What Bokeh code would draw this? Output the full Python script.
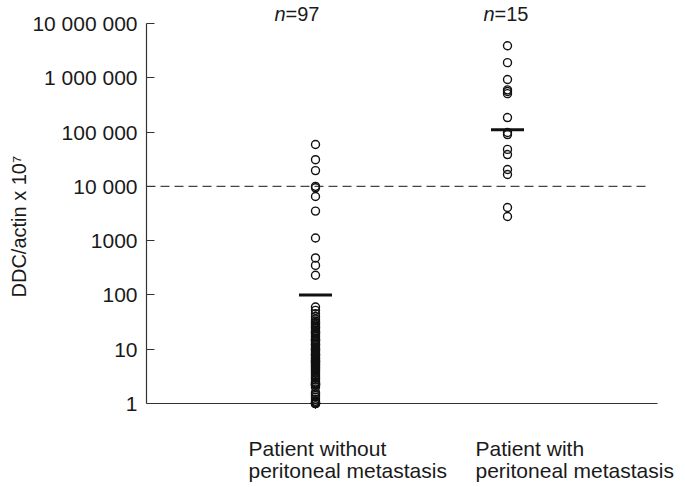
from bokeh.plotting import figure
from bokeh.models import Range1d, FixedTicker, Title
from bokeh.core.properties import value
from bokeh.embed import file_html
from bokeh.resources import INLINE

# ---- data ----
group_pos = [1, 2]
group_line1 = ["Patient without", "Patient with"]
group_line2 = ["peritoneal metastasis", "peritoneal metastasis"]
n_prefix = ["n", "n"]
n_counts = ["=97", "=15"]

without_vals = [
    59000, 31000, 19500, 10000, 9400, 6500, 3500, 1120, 480, 350, 230,
    60, 52, 45, 40, 36, 33, 31, 30,
    28, 26, 25, 24, 22, 21, 20, 20,
    19, 18, 17, 16, 15, 15, 14.5, 14, 13, 12.5, 12, 12, 11, 10.5, 10, 10,
    9.5, 9, 8.5, 8, 8, 7.8, 7.5, 7, 6.8, 6.5, 6.2, 6, 6, 5.8, 5.6, 5.4, 5.2, 5,
    4.8, 4.6, 4.4, 4.2, 4, 3.8, 3.6, 3.4, 3.2, 3,
    2.9, 2.7, 2.5, 2.4, 2.3, 2.3, 2.2, 2.2, 2.2, 2.0,
    1.6, 1.5, 1.4, 1.3, 1.2, 1.1, 1.05, 1.0, 1.0, 1.0, 1.0, 1.0, 1.0, 1.0, 1.0, 1.0,
]
with_vals = [
    3900000, 1900000, 930000, 600000, 560000, 510000, 185000,
    98000, 90000, 48000, 38500, 20400, 16500, 4070, 2780,
]
medians = [100, 110000]
threshold = 10000

y_ticks = [1, 10, 100, 1000, 10000, 100000, 1000000, 10000000]
y_tick_labels = ["1", "10", "100", "1000", "10 000", "100 000", "1 000 000", "10 000 000"]
y_title = "DDC/actin  x 10\u2077"

# ---- layout helpers (pixel geometry) ----
PX_PER_DEC = 380 / 7.0          # pixels per decade on the y axis
PX_PER_X = 192.0                # pixels per category unit
Y_BOTTOM = 10 ** (-84 / PX_PER_DEC)
Y_TOP = 10 ** (403 / PX_PER_DEC)
X_LO = 1 - 169 / PX_PER_X
X_HI = X_LO + 539 / PX_PER_X


def y_shift(v, px_up):
    return v * 10 ** (px_up / PX_PER_DEC)


def x_shift(v, px_right):
    return v + px_right / PX_PER_X


FONT = "Liberation Sans"
TXT = "#1a1a1a"
INK = "#111111"

p = figure(width=685, height=487, y_axis_type="log", x_axis_location=None,
           x_range=Range1d(X_LO, X_HI), y_range=Range1d(Y_BOTTOM, Y_TOP),
           output_backend="svg", toolbar_location=None,
           min_border_left=146, min_border_right=0,
           min_border_top=0, min_border_bottom=0)
p.outline_line_color = None
p.xgrid.visible = False
p.ygrid.visible = False
p.background_fill_color = "white"

# y axis
ya = p.yaxis[0]
ya.ticker = FixedTicker(ticks=y_ticks)
ya.bounds = (y_ticks[0], y_ticks[-1])
ya.major_label_overrides = {t: l for t, l in zip(y_ticks, y_tick_labels)}
ya.major_tick_in = 8
ya.major_tick_out = 0
ya.minor_tick_line_color = None
ya.axis_line_color = "#333333"
ya.major_tick_line_color = "#333333"
ya.axis_line_width = 1.2
ya.major_tick_line_width = 1.2
ya.major_label_text_font = FONT
ya.major_label_text_font_size = "21px"
ya.major_label_text_color = TXT
ya.major_label_standoff = 9

# y-axis title, placed along the bounded part of the axis
p.add_layout(Title(text=y_title, align="left", offset=190, standoff=0,
                   text_font=FONT, text_font_size="20px", text_font_style="normal",
                   text_color=TXT), "left")

# x axis baseline (at y = 1)
p.segment(x0=[X_LO], y0=[y_ticks[0]], x1=[x_shift(X_LO, 511)], y1=[y_ticks[0]],
          line_color="#333333", line_width=1.2)

# threshold dashed line
p.segment(x0=[X_LO], y0=[threshold], x1=[x_shift(X_LO, 501)], y1=[threshold],
          line_color="#444444", line_width=1.3, line_dash="9 5")

# points
p.scatter([group_pos[0]] * len(without_vals), without_vals, size=8,
          fill_color=None, line_color=INK, line_width=1.4)
p.scatter([group_pos[1]] * len(with_vals), with_vals, size=8,
          fill_color=None, line_color=INK, line_width=1.4)

# medians
p.scatter(group_pos, medians, marker="dash", size=33, line_color=INK, line_width=3)

# n labels
n_offsets = [-30, -13]
n_y = [y_shift(y_ticks[-1], 10)] * 2
p.text(x=[x_shift(g, o) for g, o in zip(group_pos, n_offsets)], y=n_y, text=n_prefix,
       text_align="right", text_baseline="alphabetic", text_font=value(FONT),
       text_font_size="20px", text_font_style="italic", text_color=TXT)
p.text(x=[x_shift(g, o) for g, o in zip(group_pos, n_offsets)], y=n_y, text=n_counts,
       text_align="left", text_baseline="alphabetic", text_font=value(FONT),
       text_font_size="20px", text_color=TXT)

# category labels
cat_offsets = [-67, -32]
cat_x = [x_shift(g, o) for g, o in zip(group_pos, cat_offsets)]
p.text(x=cat_x, y=[y_shift(y_ticks[0], -45)] * 2, text=group_line1,
       text_align="left", text_baseline="alphabetic", text_font=value(FONT),
       text_font_size="21px", text_color=TXT)
p.text(x=cat_x, y=[y_shift(y_ticks[0], -67)] * 2, text=group_line2,
       text_align="left", text_baseline="alphabetic", text_font=value(FONT),
       text_font_size="21px", text_color=TXT)

open("out.html", "w").write(file_html(p, INLINE))
